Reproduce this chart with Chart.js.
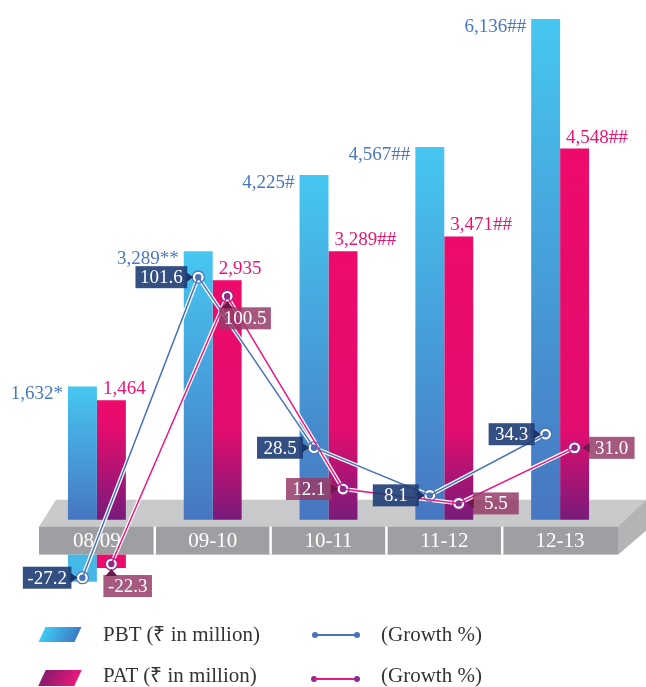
<!DOCTYPE html>
<html>
<head>
<meta charset="utf-8">
<script src="https://cdn.jsdelivr.net/npm/chart.js@4.4.0/dist/chart.umd.min.js"></script>
<style>
  body { margin: 0; background: #fff; }
  #wrap { position: relative; width: 646px; height: 687px; overflow: hidden; font-family: "Liberation Serif", serif; }
  #chart { position: absolute; left: 0; top: 0; }
  .key { position: absolute; font-size: 21px; line-height: 21px; color: #333; white-space: nowrap; }
  .swatch { position: absolute; width: 36px; transform: skewX(-25deg); }
  .gline { position: absolute; height: 2px; width: 40px; }
  .dot { position: absolute; width: 6px; height: 6px; border-radius: 50%; }
</style>
</head>
<body>
<div id="wrap">
  <canvas id="chart" width="646" height="687"></canvas>

  <div class="swatch" style="left:42px; top:627px; height:15px; background:linear-gradient(90deg,#3fcbf3,#3c7bc5);"></div>
  <div class="key" style="left:103px; top:624px;">PBT (₹ in million)</div>
  <div class="dot" style="left:312px; top:632px; background:#4a72b8;"></div>
  <div class="gline" style="left:315px; top:634px; background:#4a72b8;"></div>
  <div class="dot" style="left:354px; top:632px; background:#4a72b8;"></div>
  <div class="key" style="left:381px; top:624px;">(Growth %)</div>

  <div class="swatch" style="left:42px; top:670px; height:16px; background:linear-gradient(90deg,#8a1a6e,#e8177b);"></div>
  <div class="key" style="left:103px; top:665px;">PAT (₹ in million)</div>
  <div class="dot" style="left:311px; top:676px; background:#8e2b8e;"></div>
  <div class="gline" style="left:314px; top:678px; background:#e8158a;"></div>
  <div class="dot" style="left:354px; top:676px; background:#8e2b8e;"></div>
  <div class="key" style="left:381px; top:665px;">(Growth %)</div>
</div>

<script>
const years = ['08/09', '09-10', '10-11', '11-12', '12-13'];
const pbt = [1632, 3289, 4225, 4567, 6136];
const pat = [1464, 2935, 3289, 3471, 4548];
const pbtNotes = ['*', '**', '#', '##', '##'];
const patNotes = ['', '', '##', '##', '##'];
const pbtGrowth = [-27.2, 101.6, 28.5, 8.1, 34.3];
const patGrowth = [-22.3, 100.5, 12.1, 5.5, 31.0];

// where each PAT growth box sits next to its point
const patBoxSide = ['below', 'below', 'left', 'right', 'right'];

const FONT = '"Liberation Serif", "Times New Roman", serif';
const fmt = v => v.toLocaleString('en-US');

function pbtFill(c) {
    const chart = c.chart;
    if (!chart.chartArea || c.type !== 'data') return '#46c6f0';
    const ys = chart.scales.y;
    const top = ys.getPixelForValue(c.raw), bot = ys.getPixelForValue(0);
    const g = chart.ctx.createLinearGradient(0, top, 0, bot);
    g.addColorStop(0, '#46c7f1');
    g.addColorStop(1, '#4776c0');
    return g;
}

function patFill(c) {
    const chart = c.chart;
    if (!chart.chartArea || c.type !== 'data') return '#ec0c6c';
    const ys = chart.scales.y;
    const top = ys.getPixelForValue(c.raw), bot = ys.getPixelForValue(0);
    const g = chart.ctx.createLinearGradient(0, top, 0, bot);
    const s = Math.max(0, 1 - 90 / (bot - top));
    g.addColorStop(0, '#ee0a6b');
    g.addColorStop(s, '#e20d6e');
    g.addColorStop(1, '#781b7b');
    return g;
}

function growthBox(ctx, pt, text, side, fill, tip) {
    const tw = ctx.measureText(text).width;
    const w = Math.max(46, tw + 9), h = 22;
    let bx, by;
    if (side === 'left') { bx = pt.x - 11 - w; by = pt.y - h / 2; }
    else if (side === 'right') { bx = pt.x + 14; by = pt.y - h / 2; }
    else { bx = pt.x - 8; by = pt.y + 11; }
    ctx.fillStyle = fill;
    ctx.fillRect(bx, by, w, h);
    ctx.fillStyle = tip;
    ctx.beginPath();
    if (side === 'left') {
        ctx.moveTo(bx + w - 1, pt.y - 5); ctx.lineTo(bx + w + 6, pt.y); ctx.lineTo(bx + w - 1, pt.y + 5);
    } else if (side === 'right') {
        ctx.moveTo(bx + 1, pt.y - 5); ctx.lineTo(bx - 6, pt.y); ctx.lineTo(bx + 1, pt.y + 5);
    } else {
        ctx.moveTo(bx + 2, by + 1); ctx.lineTo(bx + 8, by - 6); ctx.lineTo(bx + 14, by + 1);
    }
    ctx.fill();
    ctx.fillStyle = '#fff';
    ctx.textAlign = 'center';
    ctx.textBaseline = 'middle';
    ctx.fillText(text, bx + w / 2, by + h / 2 + 1);
}

// growth points sit over the middle of their own bar
const alignPoints = {
    id: 'alignPoints',
    afterDatasetsUpdate(chart) {
        [[0, [2, 4]], [1, [3, 5]]].forEach(([bi, lines]) => {
            const bars = chart.getDatasetMeta(bi).data;
            lines.forEach(li => {
                chart.getDatasetMeta(li).data.forEach((pt, i) => { pt.x = bars[i].x; });
            });
        });
    }
};

const decor = {
    id: 'decor',
    beforeDatasetsDraw(chart) {
        const { ctx, chartArea, scales } = chart;
        const x = scales.x, y = scales.y;
        const y0 = y.getPixelForValue(0);
        const left = chartArea.left, right = chartArea.right;
        const topY = y0 - 20, frontY = y0 + 7, baseY = y0 + 35;
        ctx.save();
        // platform top
        ctx.fillStyle = '#c8c9cb';
        ctx.beginPath();
        ctx.moveTo(left + 17, topY);
        ctx.lineTo(right + 28, topY);
        ctx.lineTo(right, frontY);
        ctx.lineTo(left, frontY);
        ctx.closePath();
        ctx.fill();
        // right side
        ctx.fillStyle = '#b3b4b6';
        ctx.beginPath();
        ctx.moveTo(right, frontY);
        ctx.lineTo(right + 28, topY);
        ctx.lineTo(right + 28, topY + 31);
        ctx.lineTo(right, baseY);
        ctx.closePath();
        ctx.fill();
        // front face
        ctx.fillStyle = '#9e9fa2';
        ctx.fillRect(left, frontY, right - left, baseY - frontY);
        ctx.strokeStyle = '#fff';
        ctx.lineWidth = 2.5;
        for (let i = 1; i < years.length; i++) {
            const sx = (x.getPixelForValue(i - 1) + x.getPixelForValue(i)) / 2;
            ctx.beginPath();
            ctx.moveTo(sx, frontY);
            ctx.lineTo(sx, baseY);
            ctx.stroke();
        }
        ctx.fillStyle = '#fff';
        ctx.font = '21px ' + FONT;
        ctx.textAlign = 'center';
        ctx.textBaseline = 'middle';
        years.forEach((t, i) => ctx.fillText(t, x.getPixelForValue(i), (frontY + baseY) / 2 + 1));

        // bars continuing below the platform down to a negative growth point
        const stubs = [[0, 4, pbtGrowth, '#45b8e8'], [1, 5, patGrowth, '#ec0c6c']];
        stubs.forEach(([bi, li, gr, col]) => {
            const bars = chart.getDatasetMeta(bi).data;
            const pts = chart.getDatasetMeta(li).data;
            gr.forEach((v, i) => {
                if (v >= 0) return;
                const b = bars[i].getProps(['x', 'width'], true);
                const p = pts[i].getProps(['y'], true);
                ctx.fillStyle = col;
                ctx.fillRect(b.x - b.width / 2, baseY, b.width, p.y + 4 - baseY);
            });
        });
        ctx.restore();
    },
    afterDatasetsDraw(chart) {
        const { ctx } = chart;
        ctx.save();
        ctx.font = '19px ' + FONT;
        ctx.textBaseline = 'alphabetic';
        chart.getDatasetMeta(0).data.forEach((bar, i) => {
            const b = bar.getProps(['x', 'y', 'width'], true);
            ctx.fillStyle = '#4a78c0';
            ctx.textAlign = 'right';
            ctx.fillText(fmt(pbt[i]) + pbtNotes[i], b.x - b.width / 2 - 5, b.y + 13);
        });
        chart.getDatasetMeta(1).data.forEach((bar, i) => {
            const b = bar.getProps(['x', 'y', 'width'], true);
            ctx.fillStyle = '#e8146f';
            ctx.textAlign = 'left';
            ctx.fillText(fmt(pat[i]) + patNotes[i], b.x - b.width / 2 + 6, b.y - 6);
        });

        chart.getDatasetMeta(4).data.forEach((pt, i) => {
            const p = pt.getProps(['x', 'y'], true);
            growthBox(ctx, p, pbtGrowth[i].toFixed(1), 'left', 'rgba(30,60,115,0.9)', '#1d3468');
        });
        chart.getDatasetMeta(5).data.forEach((pt, i) => {
            const p = pt.getProps(['x', 'y'], true);
            growthBox(ctx, p, patGrowth[i].toFixed(1), patBoxSide[i], 'rgba(150,60,105,0.85)', '#6c1a4c');
        });
        ctx.restore();
    }
};

const lineCommon = { type: 'line', tension: 0, clip: false };

new Chart(document.getElementById('chart'), {
    type: 'bar',
    data: {
        labels: years,
        datasets: [
            { label: 'PBT', data: pbt, backgroundColor: pbtFill, order: 3,
              categoryPercentage: 0.5, barPercentage: 1 },
            { label: 'PAT', data: pat, backgroundColor: patFill, order: 3,
              categoryPercentage: 0.5, barPercentage: 1 },
            { ...lineCommon, data: pbtGrowth, yAxisID: 'yg1',
              borderColor: '#fff', borderWidth: 4, pointRadius: 6, pointBackgroundColor: '#fff',
              pointBorderColor: '#4a72b8', pointBorderWidth: 1.2, order: 2 },
            { ...lineCommon, data: patGrowth, yAxisID: 'yg2',
              borderColor: '#fff', borderWidth: 4, pointRadius: 6, pointBackgroundColor: '#fff',
              pointBorderColor: '#8e2a8a', pointBorderWidth: 1.2, order: 2 },
            { ...lineCommon, data: pbtGrowth, yAxisID: 'yg1',
              borderColor: '#4a72b8', borderWidth: 1.5, pointRadius: 3.2,
              pointBackgroundColor: '#4a72b8', pointBorderWidth: 0, order: 1 },
            { ...lineCommon, data: patGrowth, yAxisID: 'yg2',
              borderColor: '#ea1480', borderWidth: 1.5, pointRadius: 3.2,
              pointBackgroundColor: '#8e2a8a', pointBorderWidth: 0, order: 1 }
        ]
    },
    options: {
        responsive: false,
        animation: false,
        events: [],
        devicePixelRatio: 1,
        layout: { padding: { left: 39, right: 28, top: 0, bottom: 87 } },
        plugins: { legend: { display: false }, tooltip: { enabled: false } },
        scales: {
            x: { type: 'category', display: false, offset: true },
            y: { display: false, min: -985, max: 6280 },
            yg1: { type: 'linear', axis: 'y', display: false, min: -36.75, max: 217.3 },
            yg2: { type: 'linear', axis: 'y', display: false, min: -38.8, max: 233.1 }
        }
    },
    plugins: [alignPoints, decor]
});
</script>
</body>
</html>
